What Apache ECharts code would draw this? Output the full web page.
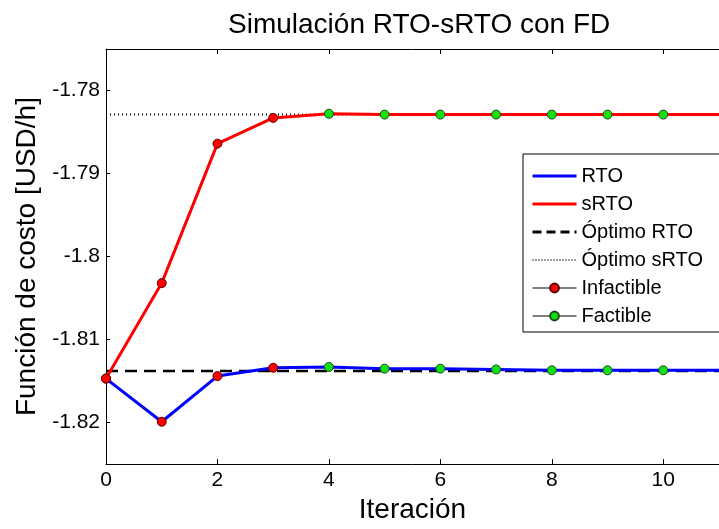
<!DOCTYPE html>
<html>
<head>
<meta charset="utf-8">
<script src="https://cdn.jsdelivr.net/npm/echarts@6/dist/echarts.min.js"></script>
<style>
html,body{margin:0;padding:0;background:#fff;}
#chart{width:719px;height:529px;}
</style>
</head>
<body>
<div id="chart"></div>
<script>
// ---- data ----
var iterations = [0, 1, 2, 3, 4, 5, 6, 7, 8, 9, 10, 11];
var rtoValues  = [-1.8147, -1.8199, -1.8144, -1.8134, -1.8133, -1.8135, -1.8135, -1.8136, -1.8137, -1.8137, -1.8137, -1.8137];
var srtoValues = [-1.8147, -1.8032, -1.7864, -1.7833, -1.7828, -1.7829, -1.7829, -1.7829, -1.7829, -1.7829, -1.7829, -1.7829];
var optimoRTO  = -1.8138;
var optimoSRTO = -1.7829;
var infeasibleIters = [0, 1, 2, 3];
var feasibleIters   = [4, 5, 6, 7, 8, 9, 10];
var xTicks = [0, 2, 4, 6, 8, 10];
var yTicks = [-1.82, -1.81, -1.8, -1.79, -1.78];
var xRange = [0, 11];
var yRange = [-1.825, -1.775];

// ---- build ----
function pairs(xs, ys) { return xs.map(function (x, i) { return [x, ys[i]]; }); }
function pick(iters, ys) { return iters.map(function (it) { return [it, ys[iterations.indexOf(it)]]; }); }
var rtoLine = pairs(iterations, rtoValues);
var srtoLine = pairs(iterations, srtoValues);
var optRTOLine = [[xRange[0], optimoRTO], [xRange[1], optimoRTO]];
var optSRTOLine = [[xRange[0], optimoSRTO], [xRange[1], optimoSRTO]];
var infeasiblePts = pick(infeasibleIters, rtoValues).concat(pick(infeasibleIters, srtoValues));
var feasiblePts = pick(feasibleIters, rtoValues).concat(pick(feasibleIters, srtoValues));

var FONT = 'Liberation Sans, Arial, sans-serif';
var chart = echarts.init(document.getElementById('chart'), null, {renderer: 'canvas'});
var noSym = {opacity: 0, borderWidth: 0};

var option = {
  backgroundColor: '#ffffff',
  animation: false,
  title: {
    text: 'Simulación RTO-sRTO con FD',
    left: 223, top: 6,
    textStyle: {fontFamily: FONT, fontSize: 28, fontWeight: 'normal', color: '#000'}
  },
  grid: {left: 106, right: 0, top: 49, bottom: 56, containLabel: false},
  legend: {
    orient: 'vertical',
    left: 523, top: 154,
    padding: [12, 30, 6, 8],
    itemWidth: 44, itemHeight: 11, itemGap: 8,
    backgroundColor: '#fff',
    borderColor: '#000', borderWidth: 1,
    selectedMode: false,
    textStyle: {fontFamily: FONT, fontSize: 20, color: '#000', lineHeight: 20},
    data: [
      {name: 'RTO', itemStyle: noSym, lineStyle: {width: 3, color: '#0000ff'}},
      {name: 'sRTO', itemStyle: noSym, lineStyle: {width: 3, color: '#ff0000'}},
      {name: 'Óptimo RTO', itemStyle: noSym, lineStyle: {width: 3, type: [9, 5], color: '#000'}},
      {name: 'Óptimo sRTO', itemStyle: noSym, lineStyle: {width: 1.5, type: [1, 2], color: '#000'}},
      {name: 'Infactible', lineStyle: {color: '#000', width: 1.2, opacity: 1, type: 'solid'}},
      {name: 'Factible', lineStyle: {color: '#000', width: 1.2, opacity: 1, type: 'solid'}}
    ]
  },
  xAxis: [{
    type: 'value', min: xRange[0], max: xRange[1],
    name: 'Iteración', nameLocation: 'middle', nameGap: 26,
    nameTextStyle: {fontFamily: FONT, fontSize: 28, color: '#000'},
    axisLine: {show: true, onZero: false, lineStyle: {color: '#000', width: 1}},
    axisTick: {show: true, inside: true, length: 5, customValues: xTicks, lineStyle: {color: '#000'}},
    axisLabel: {show: true, margin: 6, customValues: xTicks, fontFamily: FONT, fontSize: 21, color: '#000'},
    splitLine: {show: false}
  }, {
    type: 'value', position: 'top', min: xRange[0], max: xRange[1],
    axisLine: {show: true, onZero: false, lineStyle: {color: '#000', width: 1}},
    axisTick: {show: true, inside: true, length: 5, customValues: xTicks, lineStyle: {color: '#000'}},
    axisLabel: {show: false},
    splitLine: {show: false}
  }],
  yAxis: {
    type: 'value', min: yRange[0], max: yRange[1],
    name: 'Función de costo [USD/h]', nameLocation: 'middle', nameGap: 64,
    nameTextStyle: {fontFamily: FONT, fontSize: 28, color: '#000'},
    axisLine: {show: true, onZero: false, lineStyle: {color: '#000', width: 1}},
    axisTick: {show: true, inside: true, length: 4, customValues: yTicks, lineStyle: {color: '#000'}},
    axisLabel: {
      show: true, margin: 6, customValues: yTicks, fontFamily: FONT, fontSize: 21, color: '#000',
      formatter: function (v) { return String(parseFloat(v.toFixed(3))); }
    },
    splitLine: {show: false}
  },
  series: [
    {
      name: 'Óptimo sRTO', type: 'line', data: optSRTOLine, symbol: 'none', z: 1,
      lineStyle: {color: '#000', width: 2, type: [1, 3]}, itemStyle: {color: '#000'}
    },
    {
      name: 'Óptimo RTO', type: 'line', data: optRTOLine, symbol: 'none', z: 1,
      lineStyle: {color: '#000', width: 2.5, type: [12, 7]}, itemStyle: {color: '#000'}
    },
    {
      name: 'RTO', type: 'line', data: rtoLine, symbol: 'none', z: 2,
      lineStyle: {color: '#0000ff', width: 3}, itemStyle: {color: '#0000ff'}
    },
    {
      name: 'sRTO', type: 'line', data: srtoLine, symbol: 'none', z: 2,
      lineStyle: {color: '#ff0000', width: 3}, itemStyle: {color: '#ff0000'}
    },
    {
      name: 'Infactible', type: 'line', data: infeasiblePts, symbol: 'circle', symbolSize: 9, showSymbol: true, z: 3,
      lineStyle: {opacity: 0, width: 0},
      itemStyle: {color: '#ff0000', borderColor: '#5a0000', borderWidth: 1}
    },
    {
      name: 'Factible', type: 'line', data: feasiblePts, symbol: 'circle', symbolSize: 9, showSymbol: true, z: 3,
      lineStyle: {opacity: 0, width: 0},
      itemStyle: {color: '#10e010', borderColor: '#1f4a1f', borderWidth: 1}
    }
  ]
};
chart.setOption(option);
</script>
</body>
</html>
